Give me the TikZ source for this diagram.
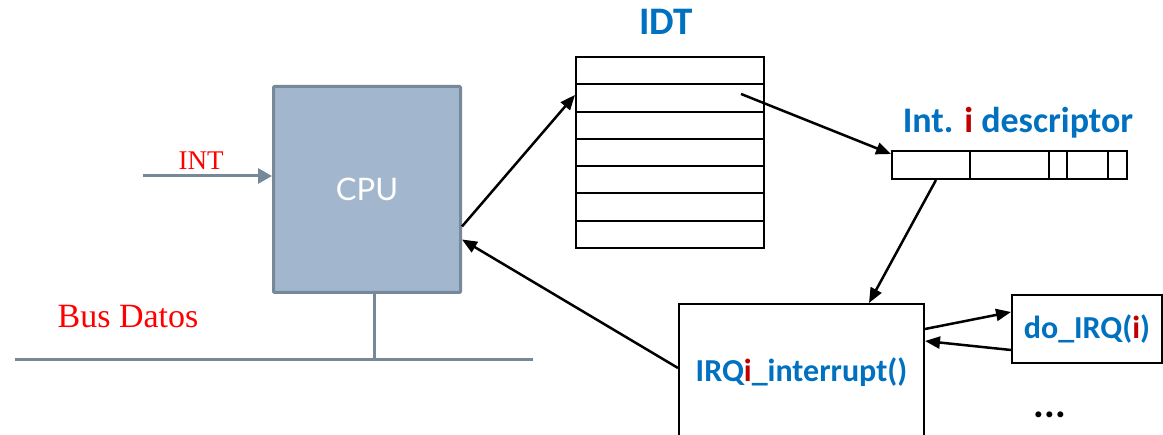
\documentclass[tikz,border=0pt]{standalone}
\usepackage{fontspec}
\setmainfont{Liberation Serif}
\newfontfamily\carlito{Carlito}
\newfontfamily\lato{Lato}
\usepackage{tikz}
\usetikzlibrary{arrows.meta,positioning,calc}
\definecolor{slideblue}{HTML}{0070C0}
\definecolor{slidered}{HTML}{C00000}
\definecolor{cpufill}{HTML}{A2B7CD}
\definecolor{cpuline}{HTML}{778899}
\newcommand{\ired}{\textcolor{slidered}{i}}

\begin{document}
\begin{tikzpicture}[x=1pt,y=-1pt,
  arr/.style={-{Triangle[length=15pt,width=12pt]}, line width=2.5pt},
  cell/.style={draw, line width=2pt, inner sep=0pt},
  idtrow/.style={cell, minimum width=188pt, minimum height=27.3pt},
  busline/.style={draw=cpuline, line width=3pt},
  blue/.style={text=slideblue, anchor=base},
  bigbold/.style={font=\carlito\bfseries\fontsize{32}{36}\selectfont}]
\useasboundingbox (0,0) rectangle (1163,435);
\clip (0,0) rectangle (1163,435);
% CPU
\node[draw=cpuline, fill=cpufill, line width=3pt, rounded corners=1pt, inner sep=0pt,
  minimum width=187pt, minimum height=206pt, text=white,
  font=\lato\fontsize{31}{34}\selectfont] (cpu) at (367,189.5) {CPU};
% INT line
\coordinate (intL) at (143,176);
\draw[cpuline, line width=3pt, -{Triangle[length=14pt,width=15pt]}] (intL) --
  node[pos=0.45, above=2pt, text=red, font=\fontsize{27}{30}\selectfont] (intlbl) {INT}
  ([yshift=13.5pt]cpu.west);
% Bus
\coordinate (busL) at (15,360);
\coordinate (busR) at (533,360);
\coordinate (busT) at (374,360);
\draw[busline] (busL) -- (busR);
\draw[busline] ([xshift=7pt]cpu.south) -- (busT);
\node[text=red, anchor=base, font=\fontsize{34}{38}\selectfont] (buslbl) at (128,328) {Bus Datos};
% IDT
\foreach \i in {1,...,7}
  \node[idtrow] (row\i) at (670,{57+27.3*(\i-0.5)}) {};
\node[blue, font=\carlito\bfseries\fontsize{39}{42}\selectfont] (idtlbl) at (666,35) {IDT};
% Int. i descriptor
\foreach \a/\b [count=\k] in {892/970,970/1049,1049/1067,1067/1108,1108/1127}
  \node[cell, minimum width={\b-\a}, minimum height=28pt] (d\k) at ({(\a+\b)/2},165) {};
\node[blue, font=\carlito\bfseries\fontsize{36}{40}\selectfont] (desclbl) at (1018,133) {Int. \ired{} descriptor};
% handlers
\node[cell, bigbold, text=slideblue, minimum width=245pt, minimum height=136pt] (irq) at (801.5,372) {IRQ\ired\_interrupt()};
\node[cell, bigbold, text=slideblue, minimum width=150pt, minimum height=68pt] (doirq) at (1087,329) {do\_IRQ(\ired)};
\node[anchor=base, font=\carlito\bfseries\fontsize{40}{44}\selectfont] (dots) at (1050,418) {...};
% arrows
\draw[arr] ([yshift=-37pt]cpu.east) -- ([yshift=3pt]row2.west);
\draw[arr] ([xshift=-24pt,yshift=4pt]row2.east) -- ([yshift=-4pt]d1.north west);
\draw[arr] ([xshift=5pt]d1.south) -- ([xshift=-56pt]irq.north east);
\draw[arr] ([yshift=4pt]irq.west) -- ([yshift=-50pt]cpu.east);
\draw[arr] ([yshift=-26pt]irq.north east) -- ([yshift=17pt]doirq.west);
\draw[arr] ([yshift=-21pt]doirq.west) -- ([yshift=-38pt]irq.north east);
\end{tikzpicture}
\end{document}
